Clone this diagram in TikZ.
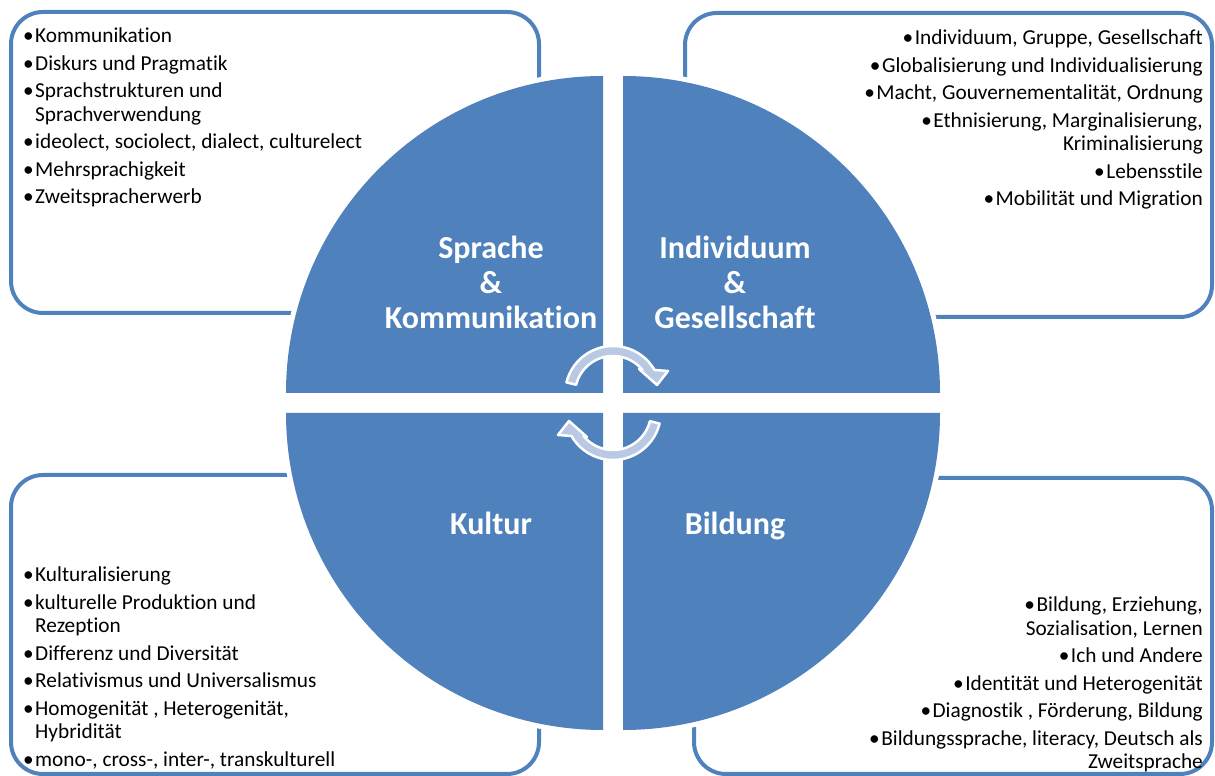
\documentclass[tikz,border=0pt]{standalone}
\usepackage{fontspec}
\setmainfont{Carlito}[Ligatures=CommonOff]
\usetikzlibrary{positioning}

\definecolor{quadblue}{HTML}{4F81BD}
\definecolor{arrowblue}{HTML}{B9C9E3}

\tikzstyle{topicbox} = [draw=quadblue, line width=4pt, rounded corners=32pt]
\tikzstyle{halo} = [fill=white]
\tikzstyle{quadrant} = [fill=quadblue]
\tikzstyle{quadlabel} = [text=white, font=\fontsize{32}{35}\selectfont\bfseries, align=center, inner sep=0pt]
\tikzstyle{itemlist} = [font=\fontsize{21.3}{23.5}\selectfont, inner sep=0pt]
\tikzstyle{cyclearrow} = [fill=arrowblue, draw=white, line width=2.5pt, line join=round]

\newcommand{\litem}[1]{\makebox[12pt][l]{\textbullet}#1}
\newcommand{\lcont}[1]{\hspace*{12pt}#1}
\newcommand{\ritem}[1]{\textbullet\kern1.5pt#1}

\begin{document}
\begin{tikzpicture}[x=1pt, y=1pt]
\useasboundingbox (0,0) rectangle (1215,776);

% outer boxes
\draw[topicbox] (11,463) rectangle (539,764);
\draw[topicbox] (685,459) rectangle (1212,763);
\draw[topicbox] (11,2) rectangle (539,301);
\draw[topicbox] (694,2) rectangle (1212,298);

% four quarters of the circle
\foreach \cx/\cy/\a in {603/383/90, 623/383/0, 603/363/180, 623/363/270}{
  \fill[halo] (\cx,\cy) -- ++(\a:322) arc[start angle=\a, delta angle=90, radius=322] -- cycle;
  \fill[quadrant] (\cx,\cy) -- ++(\a:317) arc[start angle=\a, delta angle=90, radius=317] -- cycle;
}

\node (sprache) [quadlabel] at (491,494) {Sprache\\\&\\Kommunikation};
\node (gesellschaft) [quadlabel] at (735,494) {Individuum\\\&\\Gesellschaft};
\node (kultur) [quadlabel, anchor=base] at (491,241) {Kultur};
\node (bildung) [quadlabel, anchor=base] at (735,241) {Bildung};

% circular arrows in the middle
\foreach \cy/\rot in {382/0, 364/180}{
  \begin{scope}[shift={(613,\cy)}, rotate=\rot]
    \filldraw[cyclearrow] (166:48) arc[start angle=166, end angle=30, radius=48]
      -- (55,23) -- (44,9) -- (26,25) -- (39:38) arc[start angle=39, end angle=166, radius=38] -- cycle;
  \end{scope}
}

\node (spracheitems) [itemlist, align=left, anchor=north west] at (23,748) {%
\litem{Kommunikation}\\[4pt]
\litem{Diskurs und Pragmatik}\\[4pt]
\litem{Sprachstrukturen und}\\
\lcont{Sprachverwendung}\\[4pt]
\litem{ideolect, sociolect, dialect, culturelect}\\[4pt]
\litem{Mehrsprachigkeit}\\[4pt]
\litem{Zweitspracherwerb}};

\node (gesellitems) [itemlist, align=right, anchor=north east] at (1203,746) {%
\ritem{Individuum, Gruppe, Gesellschaft}\\[4pt]
\ritem{Globalisierung und Individualisierung}\\[4pt]
\ritem{Macht, Gouvernementalität, Ordnung}\\[4pt]
\ritem{Ethnisierung, Marginalisierung,}\\
Kriminalisierung\\[4pt]
\ritem{Lebensstile}\\[4pt]
\ritem{Mobilität und Migration}};

\node (kulturitems) [itemlist, align=left, anchor=north west] at (23,209) {%
\litem{Kulturalisierung}\\[4pt]
\litem{kulturelle Produktion und}\\
\lcont{Rezeption}\\[4pt]
\litem{Differenz und Diversität}\\[4pt]
\litem{Relativismus und Universalismus}\\[4pt]
\litem{Homogenität , Heterogenität,}\\
\lcont{Hybridität}\\[4pt]
\litem{mono-, cross-, inter-, transkulturell}};

\node (bildungitems) [itemlist, align=right, anchor=north east] at (1203,179) {%
\ritem{Bildung, Erziehung,}\\
Sozialisation, Lernen\\[4pt]
\ritem{Ich und Andere}\\[4pt]
\ritem{Identität und Heterogenität}\\[4pt]
\ritem{Diagnostik , Förderung, Bildung}\\[4pt]
\ritem{Bildungssprache, literacy, Deutsch als}\\
Zweitsprache};

\end{tikzpicture}
\end{document}
